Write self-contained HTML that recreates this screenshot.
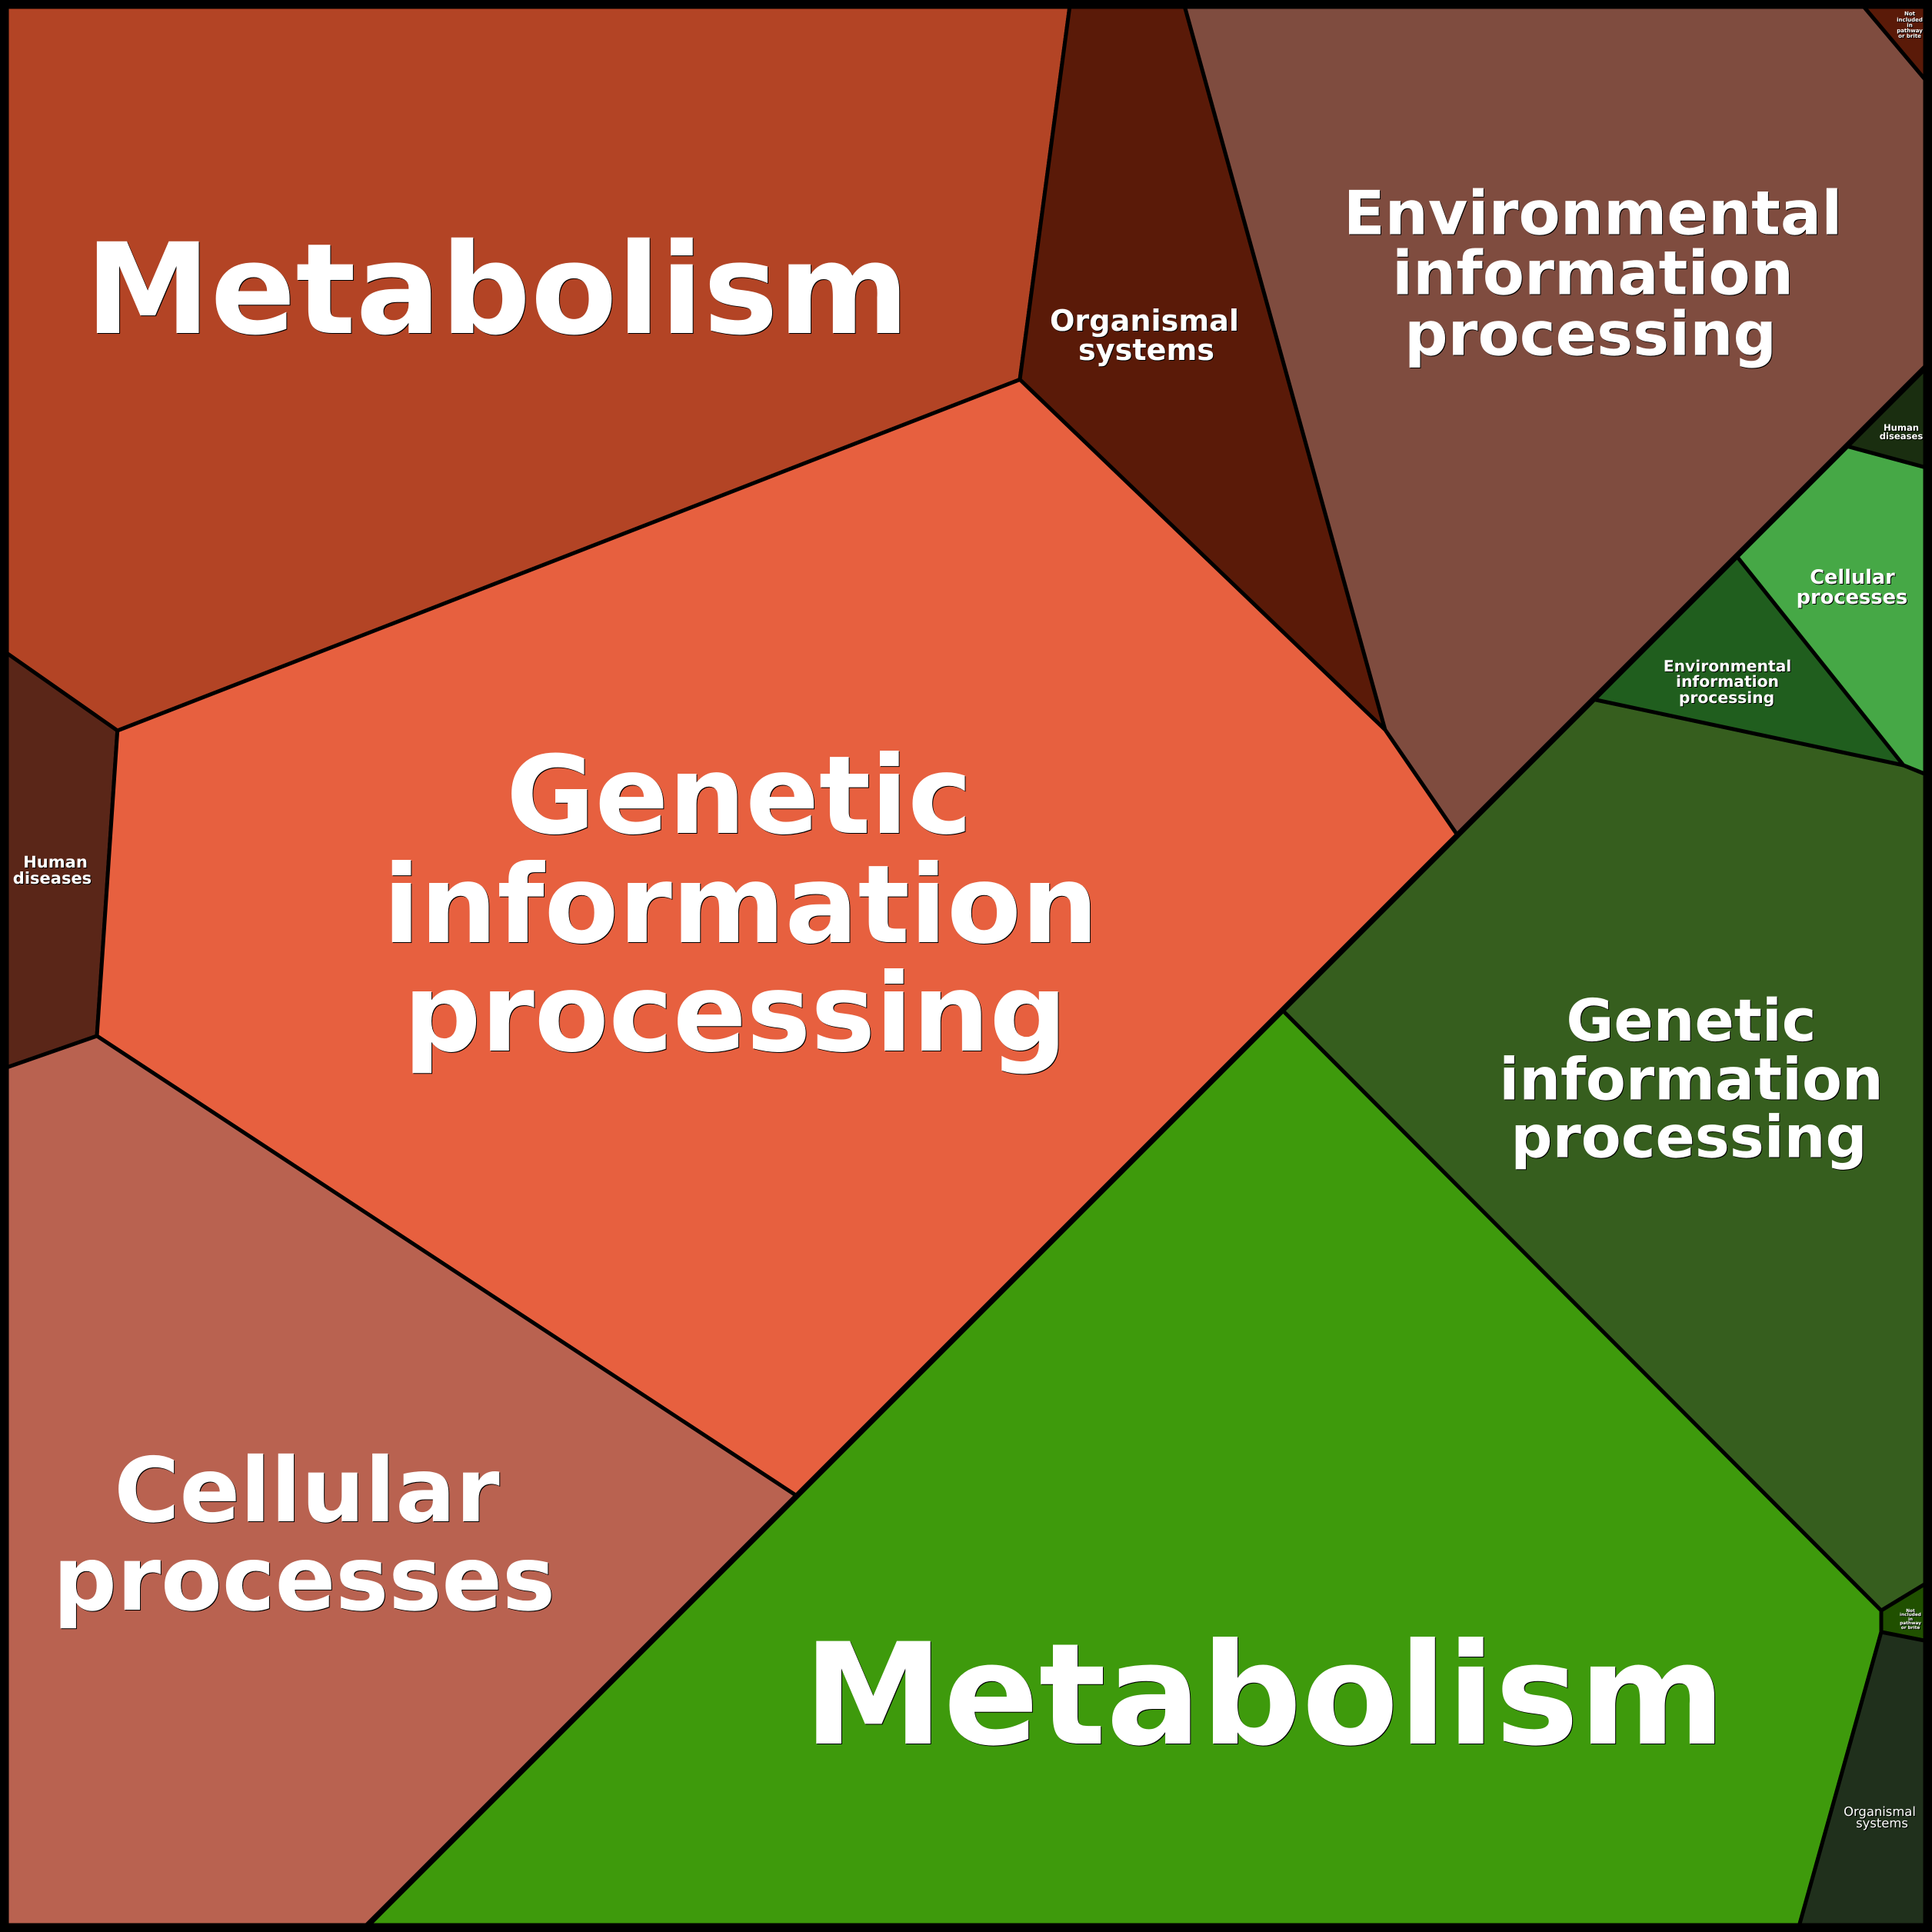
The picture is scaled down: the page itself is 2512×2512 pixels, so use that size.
<!DOCTYPE html>
<html><head><meta charset="utf-8"><style>
html,body{margin:0;padding:0;background:#fff}
svg{display:block}
text{font-family:"DejaVu Sans",sans-serif;font-weight:bold;fill:#fff;text-anchor:middle;text-rendering:geometricPrecision}
.s1{filter:drop-shadow(1.5px 1.5px 0 #000)}
.s2{filter:drop-shadow(1px 1px 0 #000)}
.r{font-weight:normal}
</style></head><body>
<svg xmlns="http://www.w3.org/2000/svg" width="2512" height="2512" viewBox="0 0 2512 2512">
<rect width="2512" height="2512" fill="#fff"/>
<g stroke="#000" stroke-width="5" stroke-linejoin="miter">
<polygon fill="#b34425" points="0,0 1392,0 1326,493.5 152.7,950 0,843"/>
<polygon fill="#5a1a08" points="1392,0 1538,0 1801,949 1326,493.5"/>
<polygon fill="#7f4c3f" points="1538,0 2416,0 2512,114 2512,469 1895,1086 1801,949"/>
<polygon fill="#5a1a08" points="2416,0 2512,0 2512,114"/>
<polygon fill="#5a2618" points="0,843 152.7,950 126,1347 0,1391"/>
<polygon fill="#e7603f" points="1326,493.5 1801,949 1895,1086 1036,1945 126,1347 152.7,950"/>
<polygon fill="#b96250" points="0,1391 126,1347 1036,1945 469,2512 0,2512"/>
<polygon fill="#3e9a0c" points="1668,1314 2446,2094 2446,2122 2337,2512 469,2512"/>
<polygon fill="#365e1e" points="2073,909.5 2475,995 2512,1010 2512,2054 2446,2094 1668,1314"/>
<polygon fill="#205e1e" points="2258,723 2475,995 2073,909.5"/>
<polygon fill="#46a846" points="2401,580 2512,610 2512,1010 2475,995 2258,723"/>
<polygon fill="#1a2e10" points="2512,469 2512,610 2401,580"/>
<polygon fill="#205000" points="2446,2094 2512,2054 2512,2135 2446,2122"/>
<polygon fill="#20301c" points="2446,2122 2512,2135 2512,2512 2337,2512"/>
</g>
<line x1="2512" y1="469" x2="469" y2="2512" stroke="#000" stroke-width="7.5"/>
<rect x="5.75" y="5.75" width="2500.5" height="2500.5" fill="none" stroke="#000" stroke-width="11.5" stroke-linejoin="round"/>

<g class="s1">
<text x="646.5" y="433" font-size="163.5">Metabolism</text>
<text x="1644" y="2267" font-size="183">Metabolism</text>
<text x="961" y="1083" font-size="140.8">Genetic</text>
<text x="963" y="1225" font-size="140.8">information</text>
<text x="956" y="1366" font-size="140.8">processing</text>
<text x="2071" y="304.5" font-size="79">Environmental</text>
<text x="2071" y="382.5" font-size="79">information</text>
<text x="2068" y="461.5" font-size="79">processing</text>
<text x="2199" y="1353" font-size="75.6">Genetic</text>
<text x="2199" y="1429.5" font-size="75.6">information</text>
<text x="2196" y="1504.5" font-size="75.6">processing</text>
<text x="399" y="1978" font-size="116">Cellular</text>
<text x="395.5" y="2093" font-size="116">processes</text>
</g>
<g class="s2">
<text x="1488" y="430" font-size="38.2">Organismal</text>
<text x="1490.5" y="468" font-size="38.2">systems</text>
<text x="72" y="1128" font-size="21">Human</text>
<text x="68" y="1149" font-size="21">diseases</text>
<text x="2408.5" y="759" font-size="25.6">Cellular</text>
<text x="2408" y="785" font-size="25.7">processes</text>
<text x="2246" y="873" font-size="20.3">Environmental</text>
<text x="2246" y="893" font-size="20.3">information</text>
<text x="2245" y="914" font-size="20.3">processing</text>
<text x="2472" y="560" font-size="11.6">Human</text>
<text x="2472" y="571" font-size="11.6">diseases</text>
<text x="2483" y="20" font-size="7">Not</text>
<text x="2483" y="28" font-size="7">included</text>
<text x="2483" y="35" font-size="7">in</text>
<text x="2483" y="42" font-size="7">pathway</text>
<text x="2483" y="49" font-size="7">or brite</text>
<text x="2484" y="2096" font-size="5.8">Not</text>
<text x="2484" y="2101" font-size="5.8">included</text>
<text x="2484" y="2107" font-size="5.8">in</text>
<text x="2484" y="2112" font-size="5.8">pathway</text>
<text x="2484" y="2118" font-size="5.8">or brite</text>
<text class="r" x="2444" y="2361" font-size="16.4">Organismal</text>
<text class="r" x="2447" y="2376" font-size="16.4">systems</text>
</g>
</svg>
</body></html>
